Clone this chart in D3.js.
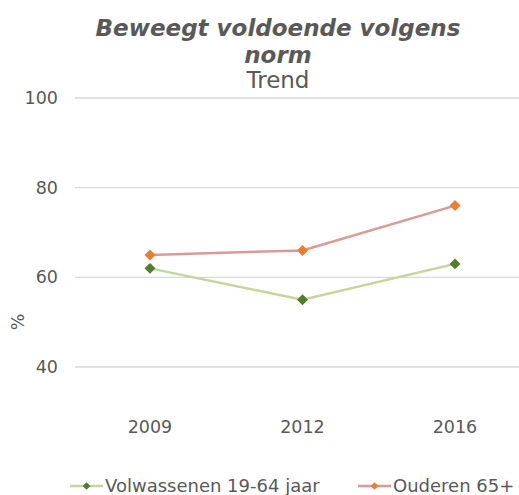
<html>
<head>
  <script src="https://cdn.jsdelivr.net/npm/d3@7"></script>
  <style>
    body { margin:0; background:#fff; }
    text { font-family: "DejaVu Sans", Verdana, sans-serif; fill:#595959; }
  </style>
</head>
<body>
<div id="chart"></div>
<script>
var years = ["2009", "2012", "2016"]
var volwassenen = [62, 55, 63]
var ouderen = [65, 66, 76]
var yTicks = [40, 60, 80, 100]
var series = [
  { name: "Volwassenen 19-64 jaar", values: volwassenen, line: "#c4d79b", marker: "#4f7f2a" },
  { name: "Ouderen 65+", values: ouderen, line: "#dc9996", marker: "#ed7d31" }
]

var W = 519, H = 495
var svg = d3.select("#chart").append("svg").attr("width", W).attr("height", H)

var x = d3.scalePoint().domain(years).range([150, 455])
var y = d3.scaleLinear().domain([40, 100]).range([367, 98])

// gridlines
svg.selectAll("line.grid").data(yTicks).enter().append("line")
  .attr("x1", 75).attr("x2", W)
  .attr("y1", d => y(d)).attr("y2", d => y(d))
  .style("stroke", "#d9d9d9").style("stroke-width", 1.3)

svg.selectAll("text.ytick").data(yTicks).enter().append("text")
  .attr("x", 58).attr("y", d => y(d) + 6)
  .attr("text-anchor", "end").style("font-size", "17.5px")
  .text(d => d)

svg.selectAll("text.xtick").data(years).enter().append("text")
  .attr("x", d => x(d)).attr("y", 433)
  .attr("text-anchor", "middle").style("font-size", "17.5px")
  .text(d => d)

svg.append("text").attr("transform", "translate(24,322) rotate(-90)")
  .attr("text-anchor", "middle").style("font-size", "17.5px").text("%")

// titles
svg.append("text").attr("x", 278).attr("y", 36).attr("text-anchor", "middle")
  .style("font-size", "23px").style("font-weight", "bold").style("font-style", "italic")
  .text("Beweegt voldoende volgens")
svg.append("text").attr("x", 278).attr("y", 63).attr("text-anchor", "middle")
  .style("font-size", "23px").style("font-weight", "bold").style("font-style", "italic")
  .text("norm")
svg.append("text").attr("x", 278).attr("y", 88).attr("text-anchor", "middle")
  .style("font-size", "23px").text("Trend")

var line = d3.line().x((d, i) => x(years[i])).y(d => y(d))
var diamond = d3.symbol().type(d3.symbolSquare).size(60)

series.forEach(function(s) {
  svg.append("path").datum(s.values).attr("d", line)
    .style("fill", "none").style("stroke", s.line).style("stroke-width", 2.5)
  svg.selectAll(null).data(s.values).enter().append("path")
    .attr("d", diamond)
    .attr("transform", (d, i) => "translate(" + x(years[i]) + "," + y(d) + ") rotate(45)")
    .style("fill", s.marker)
})

// legend
var legX = [70, 358]
series.forEach(function(s, i) {
  var g = svg.append("g").attr("transform", "translate(" + legX[i] + ",486)")
  g.append("line").attr("x1", 0).attr("x2", 33).style("stroke", s.line).style("stroke-width", 2.5)
  g.append("path").attr("d", d3.symbol().type(d3.symbolSquare).size(30))
    .attr("transform", "translate(16.5,0) rotate(45)")
    .style("fill", s.marker)
  g.append("text").attr("x", 35).attr("y", 6).style("font-size", "18px").text(s.name)
})
</script>
</body>
</html>
